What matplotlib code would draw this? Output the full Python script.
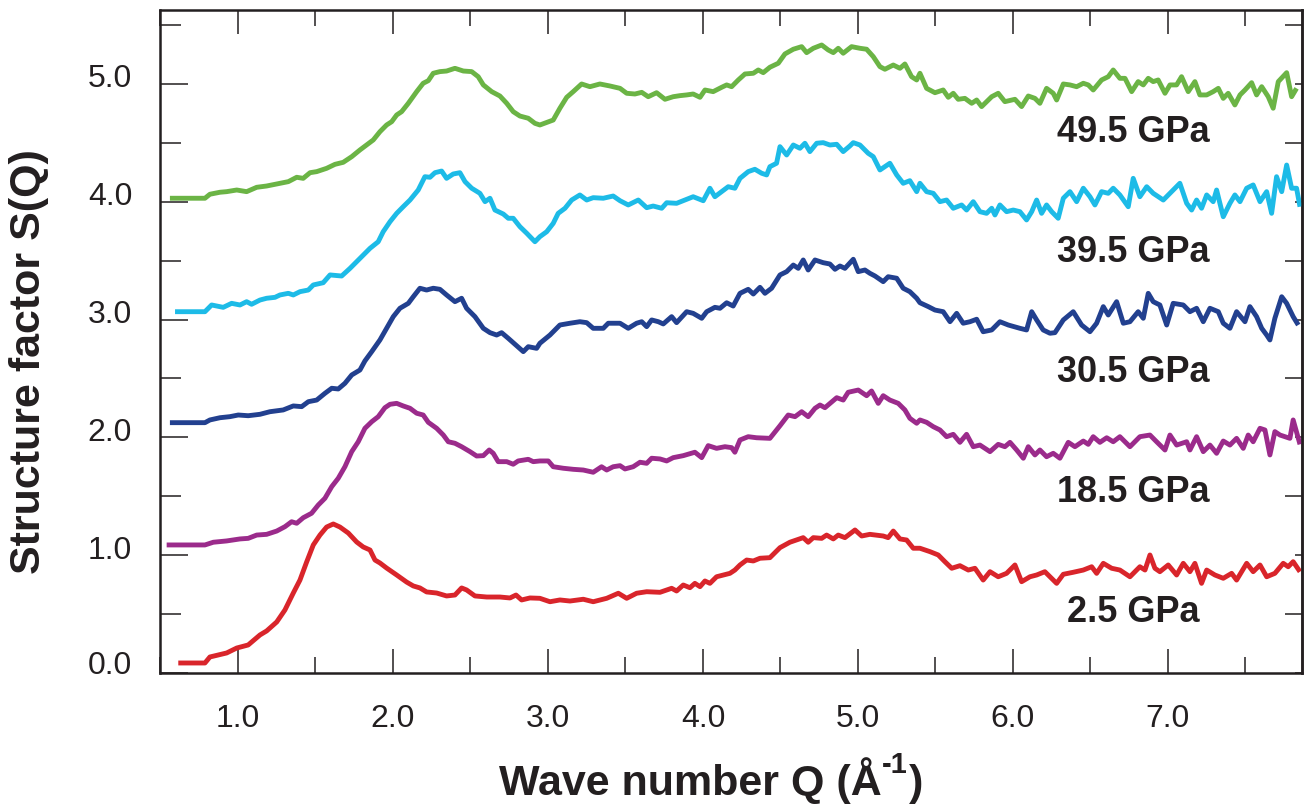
import matplotlib
matplotlib.use("Agg")
import matplotlib.pyplot as plt
import matplotlib.transforms as mtransforms
from matplotlib.ticker import FixedLocator
import numpy as np

plt.rcParams['font.family'] = ['Liberation Sans', 'DejaVu Sans']

# ---------------- data (Q in 1/Angstrom, S(Q) with vertical offsets as drawn) ----------------
q_red = [0.615, 0.787, 0.819, 0.927, 0.992, 1.066, 1.142, 1.185, 1.250, 1.303, 1.357, 1.400, 1.443, 1.486,
         1.529, 1.572, 1.615, 1.658, 1.712, 1.766, 1.808, 1.852, 1.884, 1.916, 1.959, 2.024, 2.088, 2.131,
         2.174, 2.217, 2.282, 2.346, 2.400, 2.443, 2.475, 2.529, 2.605, 2.690, 2.755, 2.794, 2.830, 2.884,
         2.948, 3.013, 3.077, 3.142, 3.228, 3.292, 3.379, 3.454, 3.508, 3.572, 3.637, 3.723, 3.798, 3.830,
         3.873, 3.916, 3.948, 3.981, 4.013, 4.045, 4.088, 4.174, 4.206, 4.239, 4.282, 4.325, 4.368, 4.432,
         4.497, 4.561, 4.647, 4.679, 4.712, 4.766, 4.798, 4.841, 4.873, 4.916, 4.981, 5.024, 5.077, 5.163,
         5.195, 5.228, 5.271, 5.314, 5.357,
         5.400, 5.465, 5.518, 5.561, 5.605, 5.658, 5.712, 5.755, 5.808, 5.852, 5.905, 5.959, 6.013, 6.056,
         6.110, 6.153, 6.206, 6.239, 6.282, 6.325, 6.389, 6.454, 6.508, 6.540, 6.583, 6.637, 6.690, 6.755,
         6.819, 6.852, 6.884, 6.916, 6.948, 7.002, 7.056, 7.099, 7.142, 7.174, 7.217, 7.250, 7.303, 7.357,
         7.411, 7.443, 7.508, 7.550, 7.594, 7.637, 7.690, 7.744, 7.776, 7.808, 7.852]
s_red = [0.085, 0.085, 0.136, 0.170, 0.212, 0.238, 0.323, 0.357, 0.433, 0.535, 0.679, 0.789, 0.942, 1.087,
         1.171, 1.239, 1.265, 1.239, 1.188, 1.112, 1.070, 1.044, 0.959, 0.934, 0.891, 0.832, 0.772, 0.739,
         0.722, 0.688, 0.679, 0.654, 0.662, 0.722, 0.705, 0.654, 0.645, 0.645, 0.637, 0.662, 0.620, 0.637,
         0.634, 0.605, 0.620, 0.611, 0.626, 0.605, 0.634, 0.677, 0.634, 0.677, 0.690, 0.685, 0.719, 0.696,
         0.747, 0.724, 0.761, 0.733, 0.781, 0.761, 0.817, 0.846, 0.874, 0.917, 0.959, 0.951, 0.974, 0.979,
         1.064, 1.110, 1.149, 1.110, 1.149, 1.143, 1.171, 1.138, 1.171, 1.149, 1.214, 1.163, 1.177, 1.163,
         1.149, 1.205, 1.138, 1.129, 1.059,
         1.059, 1.030, 1.002, 0.945, 0.889, 0.911, 0.874, 0.889, 0.789, 0.860, 0.817, 0.846, 0.917, 0.775,
         0.817, 0.832, 0.860, 0.817, 0.761, 0.838, 0.855, 0.874, 0.902, 0.846, 0.931, 0.889, 0.874, 0.817,
         0.902, 0.874, 1.002, 0.889, 0.860, 0.917, 0.832, 0.931, 0.860, 0.931, 0.761, 0.874, 0.832, 0.804,
         0.846, 0.789, 0.931, 0.860, 0.917, 0.817, 0.846, 0.931, 0.902, 0.945, 0.860]

q_mag = [0.540, 0.787, 0.841, 0.927, 1.013, 1.066, 1.121, 1.185, 1.250, 1.303, 1.346, 1.379, 1.421, 1.475,
         1.518, 1.561, 1.605, 1.647, 1.690, 1.734, 1.776, 1.819, 1.863, 1.905, 1.948, 1.981, 2.024, 2.066,
         2.110, 2.153, 2.195, 2.228, 2.282, 2.325, 2.357, 2.400, 2.443, 2.497, 2.540, 2.583, 2.621, 2.647,
         2.679, 2.734, 2.776, 2.808, 2.873, 2.905,
         2.948, 3.002, 3.034, 3.099, 3.163, 3.228, 3.292, 3.346, 3.379, 3.421, 3.465, 3.497, 3.550, 3.594,
         3.637, 3.669, 3.723, 3.766, 3.808, 3.873, 3.948, 3.992, 4.034, 4.088, 4.142, 4.185, 4.206, 4.239,
         4.292, 4.346, 4.432, 4.497, 4.550, 4.594, 4.637, 4.679, 4.723, 4.755, 4.787, 4.863, 4.905, 4.937,
         5.002, 5.056, 5.088, 5.131, 5.163, 5.206, 5.260, 5.303, 5.335, 5.379,
         5.400, 5.443, 5.486, 5.529, 5.572, 5.615, 5.658, 5.701, 5.744, 5.787, 5.852, 5.905, 5.948, 5.981,
         6.024, 6.067, 6.099, 6.142, 6.174, 6.217, 6.260, 6.303, 6.357, 6.400, 6.454, 6.486, 6.518, 6.561,
         6.605, 6.647, 6.690, 6.755, 6.819, 6.884, 6.927, 6.981, 7.013, 7.056, 7.121, 7.142, 7.185, 7.228,
         7.271, 7.314, 7.357, 7.400, 7.443, 7.486, 7.518, 7.550, 7.594, 7.626, 7.658, 7.690, 7.723, 7.755,
         7.787, 7.808, 7.852]
s_mag = [1.087, 1.087, 1.110, 1.121, 1.138, 1.143, 1.171, 1.177, 1.205, 1.242, 1.284, 1.271, 1.318, 1.356,
         1.426, 1.483, 1.582, 1.653, 1.751, 1.879, 1.963, 2.077, 2.133, 2.176, 2.252, 2.281, 2.289, 2.267,
         2.247, 2.205, 2.190, 2.128, 2.077, 2.020, 1.963, 1.950, 1.921, 1.879, 1.842, 1.845, 1.893, 1.865,
         1.794, 1.794, 1.772, 1.800, 1.814, 1.794,
         1.800, 1.800, 1.751, 1.738, 1.729, 1.723, 1.704, 1.751, 1.723, 1.751, 1.760, 1.732, 1.751, 1.789,
         1.780, 1.823, 1.817, 1.800, 1.828, 1.845, 1.874, 1.828, 1.930, 1.907, 1.921, 1.913, 1.874, 1.978,
         2.006, 1.997, 1.992, 2.099, 2.190, 2.176, 2.218, 2.176, 2.247, 2.275, 2.252, 2.337, 2.317, 2.383,
         2.402, 2.354, 2.394, 2.289, 2.354, 2.317, 2.289, 2.233, 2.162, 2.120,
         2.148, 2.128, 2.091, 2.063, 2.006, 2.026, 1.958, 2.026, 1.921, 1.935, 1.879, 1.941, 1.921, 1.958,
         1.893, 1.823, 1.921, 1.851, 1.893, 1.836, 1.865, 1.823, 1.958, 1.921, 1.969, 1.941, 2.006, 1.958,
         1.997, 1.963, 2.006, 1.921, 2.006, 2.020, 1.963, 1.893, 2.020, 1.935, 1.963, 1.893, 2.006, 1.879,
         1.935, 1.865, 1.969, 1.935, 1.992, 1.907, 2.020, 1.963, 2.077, 2.063, 1.851, 2.049, 2.020, 2.006,
         1.992, 2.148, 1.941]

q_blue = [0.561, 0.787, 0.819, 0.884, 0.948, 1.002, 1.066, 1.142, 1.206, 1.292, 1.357, 1.411, 1.454, 1.508,
          1.561, 1.605, 1.647, 1.690, 1.734, 1.787, 1.819, 1.863, 1.916,
          1.959, 2.002, 2.045, 2.099, 2.131, 2.174, 2.217, 2.260, 2.303, 2.346, 2.400, 2.443, 2.475, 2.529,
          2.583, 2.626, 2.669, 2.701, 2.744, 2.841, 2.873, 2.927,
          2.948, 3.013, 3.077, 3.142, 3.206, 3.250, 3.292, 3.357, 3.389, 3.465, 3.518, 3.572, 3.605, 3.637,
          3.669, 3.712, 3.744, 3.798, 3.830, 3.895, 3.937, 3.992, 4.024, 4.077, 4.110, 4.153, 4.195, 4.239,
          4.292, 4.325, 4.368, 4.400, 4.443, 4.497, 4.540, 4.583, 4.615, 4.647, 4.679, 4.723, 4.776, 4.819,
          4.852, 4.884, 4.916, 4.970, 5.002, 5.045, 5.077, 5.110, 5.163, 5.195, 5.250, 5.292, 5.335, 5.379,
          5.400, 5.454, 5.497, 5.550, 5.594, 5.637, 5.679, 5.723, 5.766, 5.808, 5.863, 5.916, 5.970, 6.045,
          6.088, 6.121, 6.153, 6.195, 6.239, 6.271, 6.325, 6.389, 6.443, 6.497, 6.540, 6.583, 6.615, 6.669,
          6.712, 6.755, 6.808, 6.841, 6.873, 6.905, 6.948, 6.992, 7.034, 7.099, 7.142, 7.185, 7.228, 7.271,
          7.325, 7.357, 7.400, 7.443, 7.497, 7.529, 7.572, 7.605, 7.637, 7.658, 7.690, 7.734, 7.766, 7.808,
          7.841]
s_blue = [2.125, 2.125, 2.148, 2.167, 2.176, 2.190, 2.184, 2.196, 2.218, 2.233, 2.267, 2.261, 2.303, 2.317,
          2.374, 2.417, 2.411, 2.459, 2.530, 2.572, 2.649, 2.728, 2.827,
          2.926, 3.025, 3.096, 3.138, 3.194, 3.266, 3.251, 3.266, 3.257, 3.209, 3.152, 3.181, 3.096, 3.025,
          2.926, 2.889, 2.869, 2.889, 2.841, 2.728, 2.770, 2.756,
          2.799, 2.869, 2.954, 2.969, 2.982, 2.974, 2.926, 2.926, 2.969, 2.969, 2.926, 2.969, 2.982, 2.940,
          2.997, 2.982, 2.963, 3.025, 2.974, 3.067, 3.053, 3.011, 3.067, 3.104, 3.096, 3.143, 3.115, 3.223,
          3.257, 3.217, 3.274, 3.223, 3.266, 3.379, 3.407, 3.463, 3.435, 3.506, 3.421, 3.506, 3.483, 3.472,
          3.427, 3.455, 3.435, 3.512, 3.407, 3.421, 3.393, 3.370, 3.322, 3.364, 3.351, 3.266, 3.237, 3.181,
          3.143, 3.110, 3.081, 3.067, 2.982, 3.053, 2.969, 2.982, 3.003, 2.897, 2.912, 2.982, 2.954, 2.926,
          2.912, 3.067, 2.997, 2.912, 2.884, 2.889, 2.997, 3.067, 2.954, 2.897, 2.969, 3.110, 3.039, 3.152,
          2.969, 2.982, 3.067, 3.011, 3.223, 3.152, 3.124, 2.954, 3.138, 3.124, 3.067, 3.096, 2.982, 3.096,
          3.067, 2.969, 2.926, 3.067, 2.982, 3.110, 3.025, 2.926, 2.869, 2.827, 3.011, 3.194, 3.138, 3.025,
          2.954]

q_cyan = [0.594, 0.787, 0.830, 0.905, 0.959, 1.013, 1.056, 1.088, 1.142, 1.185, 1.239, 1.271, 1.325, 1.357,
          1.400, 1.454, 1.486, 1.550, 1.594, 1.669, 1.723, 1.766, 1.808, 1.852, 1.905, 1.937, 1.981, 2.024,
          2.066, 2.110, 2.163, 2.206, 2.239, 2.271, 2.314, 2.346, 2.389, 2.432, 2.465, 2.508, 2.561, 2.594,
          2.626, 2.658, 2.712, 2.744, 2.776, 2.819, 2.863, 2.916,
          2.948, 2.992, 3.034, 3.066, 3.110, 3.153, 3.206, 3.250, 3.292, 3.357, 3.421, 3.465, 3.518, 3.583,
          3.637, 3.679, 3.734, 3.766, 3.830, 3.895, 3.937, 4.002, 4.045, 4.077, 4.121, 4.163, 4.206, 4.239,
          4.292, 4.335, 4.379, 4.411, 4.432, 4.475, 4.497, 4.540, 4.583, 4.626, 4.658, 4.690, 4.734, 4.776,
          4.819, 4.863, 4.905, 4.948, 4.970, 5.013, 5.066, 5.099, 5.142, 5.206, 5.250, 5.292, 5.335, 5.379,
          5.400, 5.443, 5.486, 5.529, 5.572, 5.615, 5.669, 5.701, 5.744, 5.787, 5.830, 5.863, 5.884, 5.916,
          5.959, 6.002, 6.045, 6.088, 6.121, 6.153, 6.185, 6.217, 6.250, 6.292, 6.325, 6.368, 6.411, 6.454,
          6.497, 6.529, 6.572, 6.615, 6.647, 6.690, 6.744, 6.776, 6.819, 6.863, 6.905, 6.970, 7.024, 7.077,
          7.121, 7.153, 7.185, 7.217, 7.250, 7.292, 7.314, 7.357, 7.400, 7.432, 7.465, 7.508, 7.550, 7.594,
          7.637, 7.669, 7.701, 7.734, 7.766, 7.798, 7.830, 7.852]
s_cyan = [3.067, 3.067, 3.124, 3.104, 3.138, 3.124, 3.152, 3.130, 3.166, 3.181, 3.189, 3.209, 3.223, 3.209,
          3.237, 3.251, 3.294, 3.313, 3.379, 3.370, 3.435, 3.492, 3.548, 3.605, 3.661, 3.746, 3.831, 3.902,
          3.958, 4.015, 4.100, 4.213, 4.208, 4.247, 4.261, 4.199, 4.236, 4.247, 4.171, 4.115, 4.072, 4.001,
          4.030, 3.930, 3.896, 3.860, 3.860, 3.789, 3.733, 3.661,
          3.704, 3.746, 3.817, 3.902, 3.945, 4.015, 4.058, 4.015, 4.035, 4.030, 4.049, 4.009, 3.973, 4.015,
          3.950, 3.964, 3.945, 3.992, 3.987, 4.021, 4.043, 4.009, 4.115, 4.043, 4.086, 4.128, 4.115, 4.199,
          4.256, 4.276, 4.242, 4.228, 4.298, 4.327, 4.468, 4.397, 4.482, 4.454, 4.497, 4.426, 4.497, 4.502,
          4.482, 4.488, 4.426, 4.474, 4.502, 4.482, 4.412, 4.383, 4.270, 4.327, 4.228, 4.157, 4.179, 4.086,
          4.157, 4.086, 4.072, 4.001, 4.015, 3.945, 3.973, 3.930, 4.001, 3.916, 3.902, 3.945, 3.888, 3.973,
          3.916, 3.930, 3.916, 3.846, 3.916, 4.015, 3.902, 3.973, 3.916, 3.860, 4.030, 4.086, 4.001, 4.115,
          4.043, 3.973, 4.086, 4.072, 4.115, 4.058, 3.958, 4.199, 4.043, 4.128, 4.072, 4.015, 4.086, 4.157,
          3.987, 3.930, 4.015, 3.945, 4.058, 4.001, 4.100, 3.873, 3.987, 4.058, 4.001, 4.115, 4.143, 4.001,
          4.086, 3.902, 4.213, 4.086, 4.312, 4.115, 4.115, 3.958]

q_green = [0.561, 0.787, 0.819, 0.884, 0.927, 0.992, 1.056, 1.121, 1.185, 1.250, 1.325, 1.379, 1.421, 1.465,
           1.508, 1.572, 1.626, 1.679, 1.734, 1.787, 1.830, 1.873, 1.916, 1.959, 1.992, 2.024, 2.056, 2.099,
           2.153, 2.195, 2.228, 2.260, 2.303, 2.346, 2.400, 2.454, 2.508, 2.550, 2.583, 2.637, 2.690, 2.734,
           2.776, 2.819, 2.873, 2.916,
           2.948, 3.034, 3.077, 3.121, 3.163, 3.217, 3.271, 3.335, 3.400, 3.465, 3.508, 3.561, 3.605, 3.647,
           3.701, 3.755, 3.808, 3.852, 3.895, 3.937, 3.981, 4.013, 4.066, 4.121, 4.153, 4.185, 4.228, 4.271,
           4.325, 4.357, 4.389, 4.432, 4.486, 4.529, 4.583, 4.637, 4.669, 4.712, 4.766, 4.808, 4.841, 4.873,
           4.905, 4.959, 5.013, 5.056, 5.099, 5.142, 5.174, 5.228, 5.271, 5.303, 5.346, 5.379, 5.400,
           5.443, 5.497, 5.550, 5.583, 5.615, 5.647, 5.690, 5.734, 5.766, 5.798, 5.830, 5.863, 5.905, 5.948,
           6.013, 6.056, 6.099, 6.142, 6.174, 6.217, 6.260, 6.282, 6.325, 6.368, 6.411, 6.454, 6.486, 6.518,
           6.572, 6.615, 6.647, 6.690, 6.723, 6.766, 6.808, 6.841, 6.873, 6.905, 6.937, 6.981, 7.013, 7.056,
           7.088, 7.131, 7.174, 7.206, 7.250, 7.292, 7.325, 7.357, 7.389, 7.432, 7.465, 7.497, 7.540, 7.572,
           7.605, 7.647, 7.679, 7.712, 7.766, 7.798, 7.830]
s_green = [4.030, 4.030, 4.064, 4.081, 4.086, 4.100, 4.086, 4.123, 4.134, 4.151, 4.171, 4.208, 4.199, 4.247,
           4.256, 4.284, 4.318, 4.335, 4.383, 4.440, 4.482, 4.525, 4.595, 4.652, 4.680, 4.737, 4.765, 4.836,
           4.935, 5.006, 5.028, 5.091, 5.105, 5.110, 5.133, 5.110, 5.105, 5.062, 4.992, 4.935, 4.898, 4.836,
           4.765, 4.728, 4.709, 4.666,
           4.652, 4.694, 4.794, 4.887, 4.935, 5.000, 4.977, 5.000, 4.983, 4.963, 4.921, 4.915, 4.929, 4.892,
           4.926, 4.870, 4.892, 4.901, 4.907, 4.915, 4.887, 4.949, 4.935, 4.972, 4.992, 4.977, 5.034, 5.085,
           5.091, 5.119, 5.096, 5.142, 5.176, 5.255, 5.295, 5.317, 5.266, 5.303, 5.331, 5.289, 5.266, 5.303,
           5.261, 5.317, 5.303, 5.295, 5.232, 5.147, 5.125, 5.161, 5.133, 5.170, 5.062, 5.034, 5.091,
           4.963, 4.926, 4.949, 4.887, 4.921, 4.870, 4.878, 4.836, 4.864, 4.808, 4.850, 4.892, 4.921, 4.850,
           4.870, 4.808, 4.898, 4.878, 4.836, 4.963, 4.921, 4.864, 5.000, 4.992, 4.977, 5.006, 4.992, 4.949,
           5.034, 5.062, 5.119, 5.048, 5.048, 4.935, 5.020, 4.992, 5.048, 5.020, 5.034, 4.921, 4.992, 4.992,
           5.062, 4.935, 5.020, 4.907, 4.907, 4.935, 4.963, 4.878, 4.921, 4.822, 4.907, 4.949, 5.011, 4.907,
           4.977, 4.892, 4.794, 5.020, 5.096, 4.892, 4.963]

series_q = [q_red, q_mag, q_blue, q_cyan, q_green]
series_s = [s_red, s_mag, s_blue, s_cyan, s_green]
series_labels = ['2.5 GPa', '18.5 GPa', '30.5 GPa', '39.5 GPa', '49.5 GPa']
series_colors = ['#D9252B', '#9B2B8B', '#22408F', '#1DBBE7', '#6BB445']

xtick_values = [1.0, 2.0, 3.0, 4.0, 5.0, 6.0, 7.0]
xtick_labels = ['1.0', '2.0', '3.0', '4.0', '5.0', '6.0', '7.0']
ytick_values = [0.0, 1.0, 2.0, 3.0, 4.0, 5.0]
ytick_labels = ['0.0', '1.0', '2.0', '3.0', '4.0', '5.0']

# ---------------- figure ----------------
W, H = 1310, 810
fig = plt.figure(figsize=(W / 100, H / 100), dpi=100)
ax = fig.add_axes([160 / W, 1 - 673 / H, (1302 - 160) / W, (673 - 10) / H])

for q, s, c in zip(series_q, series_s, series_colors):
    ax.plot(q, s, color=c, lw=3.5, solid_joinstyle='round', solid_capstyle='butt')

ax.set_xlim(0.497, 7.865)
ax.set_ylim(0.0, 5.628)

tick_color = '#231f20'

# pressure labels (right aligned, baseline)
label_pos = [(7.206, 0.435), (7.271, 1.454), (7.271, 2.473), (7.271, 3.492), (7.271, 4.510)]
for (lx, ly), txt in zip(label_pos, series_labels):
    ax.text(lx, ly, txt, ha='right', va='baseline', fontsize=26, fontweight='bold', color=tick_color)

for sp in ax.spines.values():
    sp.set_linewidth(1.8)
    sp.set_color(tick_color)

ax.set_xticks(xtick_values)
ax.set_xticklabels(xtick_labels)
ax.xaxis.set_minor_locator(FixedLocator(np.arange(0.5, 8.0, 1.0)))
ax.set_yticks(ytick_values)
ax.set_yticklabels(ytick_labels)
ax.yaxis.set_minor_locator(FixedLocator(np.arange(0.5, 6.0, 1.0)))

ax.tick_params(axis='x', which='major', direction='in', length=17, width=1.1, top=True,
               pad=22, labelsize=23, labelcolor=tick_color, color=tick_color)
ax.tick_params(axis='x', which='minor', direction='in', length=11.5, width=1.1, top=True, color=tick_color)
ax.tick_params(axis='y', which='major', direction='in', length=20, width=1.1, right=False,
               pad=20, labelsize=23, labelcolor=tick_color, color=tick_color)
ax.tick_params(axis='y', which='minor', direction='in', length=15, width=1.1, right=False, color=tick_color)

# right side ticks (different pattern)
sec = ax.secondary_yaxis('right')
sec.set_yticks(ytick_values)
sec.yaxis.set_minor_locator(FixedLocator(np.arange(0.5, 6.0, 1.0)))
sec.tick_params(which='major', direction='in', length=5, width=1.1, labelright=False, color=tick_color)
sec.tick_params(which='minor', direction='in', length=12, width=1.1, color=tick_color)
sec.spines['right'].set_linewidth(1.8)
sec.spines['right'].set_color(tick_color)

# y tick labels sit a little above their ticks in the original
for lab, v in zip(ax.get_yticklabels(), ytick_values):
    dy = 11 if v == 0.0 else 8
    off = mtransforms.ScaledTranslation(0, dy / 100, fig.dpi_scale_trans)
    lab.set_transform(lab.get_transform() + off)

# x axis title with a bold superscript built from three text pieces
base_y = 1 - 795 / H
t1 = fig.text(0, base_y, 'Wave number Q (Å', ha='left', va='baseline',
              fontsize=31, fontweight='bold', color=tick_color)
t2 = fig.text(0, base_y + 22 / H, '-1', ha='left', va='baseline',
              fontsize=21, fontweight='bold', color=tick_color)
t3 = fig.text(0, base_y, ')', ha='left', va='baseline',
              fontsize=31, fontweight='bold', color=tick_color)
fig.canvas.draw()
r = fig.canvas.get_renderer()
w1 = t1.get_window_extent(r).width
w2 = t2.get_window_extent(r).width
w3 = t3.get_window_extent(r).width
x0 = 711 - (w1 + w2 + w3 + 2) / 2
t1.set_x(x0 / W)
t2.set_x((x0 + w1 + 1) / W)
t3.set_x((x0 + w1 + w2 + 2) / W)

fig.text(29 / W, 1 - 361.5 / H, 'Structure factor S(Q)', rotation=90, ha='center', va='center',
         fontsize=31, fontweight='bold', color=tick_color)

fig.savefig('out.png', dpi=100)
